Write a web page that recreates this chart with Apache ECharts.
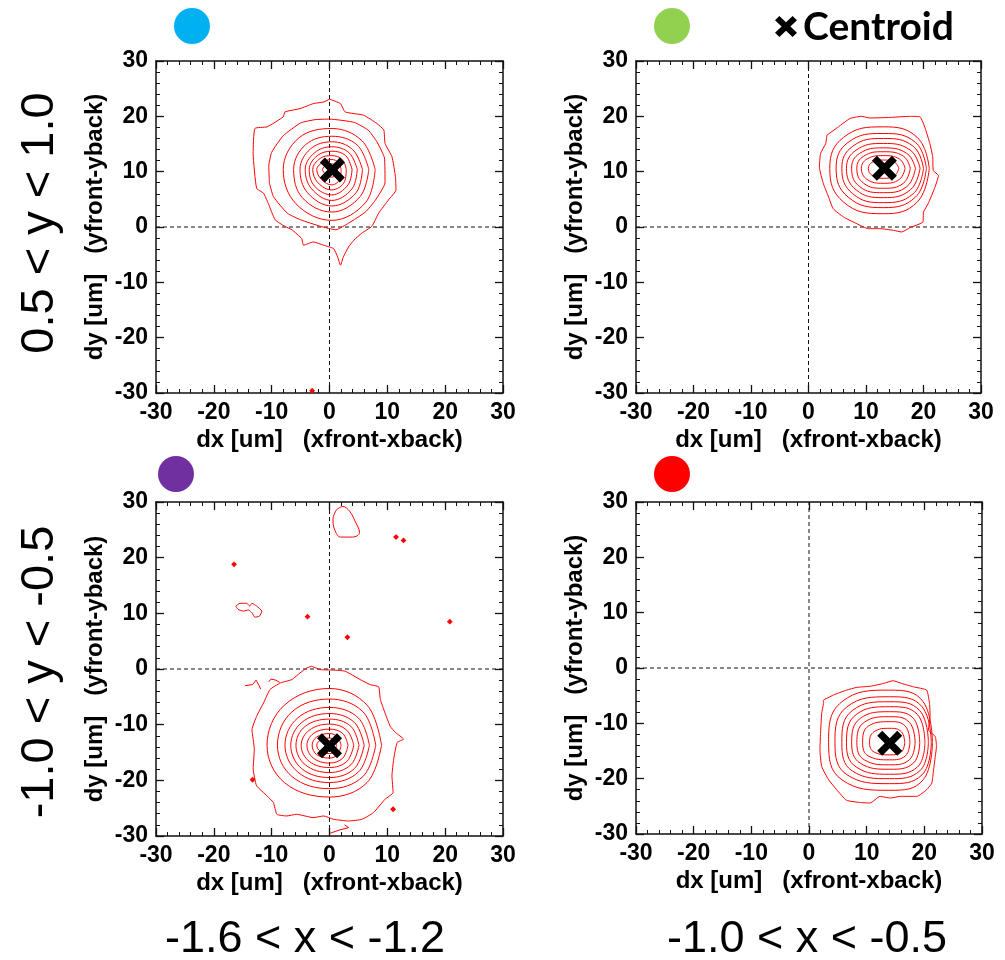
<!DOCTYPE html>
<html><head><meta charset="utf-8">
<script src="https://cdn.jsdelivr.net/npm/echarts@6/dist/echarts.min.js"></script>
<style>html,body{margin:0;padding:0;background:#fff}#c{width:1005px;height:960px}</style>
</head><body><div id="c"></div>
<script>
// ---------------- data ----------------
const axisMin = -30, axisMax = 30, axisStep = 10;
const xAxisName = 'dx [um]   (xfront-xback)';
const yAxisName = 'dy [um]   (yfront-yback)';
const rowLabels = ['0.5 < y < 1.0', '-1.0 < y < -0.5'];
const colLabels = ['-1.6 < x < -1.2', '-1.0 < x < -0.5'];
const panelColors = ['#00B0F0', '#92D050', '#7030A0', '#FF0000'];
const legendLabel = 'Centroid';
const centroids = [[0.5, 10.3], [13.2, 10.6], [0.0, -13.8], [14.0, -13.6]];
const crossV = [[0, -30], [0, 30]];
const crossH = [[-30, 0], [30, 0]];

const panel1Contours = [
  [[0,23.1],[1.9,22.3],[2.7,20.8],[5.9,20.2],[8.2,18.7],[9.4,17.5],[9.6,15.1],[10.8,12.7],[11.4,9.1],[11.5,6.7],[10.2,4.9],[8.5,2.5],[7.3,0.1],[5.6,-1.1],[4.2,-2.4],[3.3,-3.6],[2.4,-5.4],[1.9,-6.9],[1.4,-5.4],[0.7,-3.9],[-1.0,-3.3],[-2.8,-2.7],[-4.5,-3.3],[-4.8,-2.1],[-6.5,-0.5],[-7.7,0.1],[-9.4,1.3],[-10.6,4.3],[-11.4,6.1],[-12.6,7.0],[-13.2,13.3],[-12.9,17.8],[-10.8,18.1],[-8.0,19.9],[-7.7,20.8],[-5.1,21.4],[-2.8,22.3],[-1.0,22.6]],
  [[-10.4,8],[-10.5,11],[-10.0,13.5],[-8.0,16.5],[-5.0,18.8],[-2.5,19.4],[0,19.5],[4.3,18.9],[6.7,17.5],[8.2,15.4],[9.5,12.5],[9.6,8.0],[7.9,4.8],[6.2,2.7],[3.3,0.7],[1.1,-0.5],[-1.5,0.1],[-5,1.3],[-7.3,2.5],[-9.7,5.5]],
  [[7.9,10.4],[5.6,15.6],[0.4,17.8],[-5.3,16.1],[-8.0,10.4],[-5.8,4.2],[0.4,1.2],[6.3,4.5]],
  [[6.8,10.4],[4.8,14.8],[0.4,16.4],[-4.1,14.9],[-6.2,10.4],[-4.7,5.3],[0.4,2.7],[5.3,5.5]],
  [[5.7,10.4],[4.0,14.0],[0.4,15.4],[-3.3,14.1],[-5.1,10.4],[-3.8,6.2],[0.4,3.8],[4.6,6.2]],
  [[4.8,10.4],[3.4,13.4],[0.4,14.5],[-2.6,13.4],[-4.2,10.4],[-3.1,6.9],[0.4,4.8],[3.9,6.9]],
  [[3.9,10.4],[2.8,12.9],[0.4,13.7],[-2.1,12.9],[-3.5,10.4],[-2.6,7.4],[0.4,5.8],[3.2,7.6]],
  [[2.9,10.4],[2.2,12.2],[0.4,12.9],[-1.6,12.4],[-2.9,10.4],[-2.0,8.0],[0.4,6.7],[2.6,8.2]],
  [[2.0,10.4],[1.6,11.6],[0.4,12.2],[-1.0,11.8],[-2.2,10.4],[-1.4,8.6],[0.4,7.6],[1.9,8.9]],
  [[1.4,10.4],[1.1,11.1],[0.4,11.4],[-0.5,11.2],[-1.2,10.4],[-0.6,9.5],[0.4,9.0],[1.2,9.6]]
];
const panel1Specks = [[-3.0,-29.6]];

const panel2Contours = [
  [[3.2,16.6],[5.2,18.1],[7.2,19.6],[9.2,20.0],[10.7,19.7],[14.2,19.8],[17.6,20.0],[19.4,19.9],[20.3,17.8],[21.1,15.1],[21.6,12.7],[21.7,10.2],[22.6,9.3],[22.0,7.2],[20.8,4.2],[20.0,2.7],[19.9,0.9],[17.7,-0.1],[16.2,-0.9],[14.8,-0.6],[12.4,-0.3],[10.4,-0.3],[8.4,0.6],[6.1,1.8],[4.3,3.3],[3.5,5.4],[2.6,7.8],[1.9,10.8],[2.1,13.3],[3.0,15.1]],
  [[21.0,10.6],[18.9,16.2],[13.0,18.1],[6.1,16.2],[3.7,10.6],[6.1,4.5],[13.0,2.4],[18.9,4.5]],
  [[20.5,10.6],[18.6,15.3],[13.0,16.9],[6.9,15.3],[4.8,10.6],[6.9,5.4],[13.0,3.5],[18.6,5.4]],
  [[20.0,10.6],[18.2,14.6],[13.0,16.0],[7.7,14.6],[5.8,10.6],[7.7,6.0],[13.0,4.4],[18.2,6.0]],
  [[19.4,10.6],[17.7,13.9],[13.0,15.1],[8.3,13.9],[6.6,10.6],[8.3,6.7],[13.0,5.3],[17.7,6.7]],
  [[18.6,10.6],[17.1,13.3],[13.0,14.3],[8.9,13.3],[7.5,10.6],[8.9,7.3],[13.0,6.2],[17.1,7.3]],
  [[17.7,10.6],[16.5,12.8],[13.0,13.6],[9.6,12.8],[8.4,10.6],[9.6,7.9],[13.0,7.0],[16.5,7.9]],
  [[16.8,10.6],[15.8,12.3],[13.0,12.9],[10.2,12.3],[9.2,10.6],[10.2,8.6],[13.0,7.9],[15.8,8.6]],
  [[15.7,10.6],[15.0,11.7],[13.0,12.1],[11.1,11.7],[10.4,10.6],[11.1,9.3],[13.0,8.8],[15.0,9.3]]
];

const panel3Contours = [
  [[-3.1,0.5],[-1.6,-0.1],[0.7,-0.2],[2.7,-0.4],[5.3,-1.9],[7.0,-2.8],[8.5,-3.2],[8.8,-5.5],[9.6,-7.9],[10.5,-10.3],[11.4,-11.4],[12.8,-12.6],[11.7,-13.2],[11.1,-16.2],[10.8,-19.2],[11.0,-22.2],[9.6,-23.4],[7.6,-25.8],[5.6,-27.0],[3.3,-27.3],[0.7,-27.0],[-1.0,-26.4],[-2.8,-26.7],[-5.7,-26.1],[-7.4,-26.4],[-9.1,-26.1],[-9.7,-24.0],[-10.8,-22.8],[-12.6,-21.0],[-12.9,-19.8],[-13.2,-18.0],[-13.0,-14.4],[-13.4,-10.9],[-12.6,-8.5],[-11.4,-6.1],[-10.3,-3.7],[-8.5,-2.5],[-6.5,-1.9],[-5.1,-0.7],[-3.9,0.2]],
  [[9.0,-13.7],[6.5,-6.5],[0,-3.5],[-7.8,-6.5],[-10.8,-13.7],[-7.8,-20.4],[0,-23.0],[6.5,-20.4]],
  [[8.0,-13.7],[5.8,-7.7],[0,-5.4],[-6.5,-7.7],[-9.0,-13.7],[-6.5,-19.3],[0,-21.5],[5.8,-19.3]],
  [[6.9,-13.7],[5.0,-8.8],[0,-6.9],[-5.5,-8.8],[-7.7,-13.7],[-5.5,-18.5],[0,-20.4],[5.0,-18.5]],
  [[6.0,-13.7],[4.3,-9.6],[0,-8.0],[-4.8,-9.6],[-6.7,-13.7],[-4.8,-17.9],[0,-19.5],[4.3,-17.9]],
  [[5.1,-13.7],[3.7,-10.3],[0,-9.0],[-4.2,-10.3],[-5.8,-13.7],[-4.2,-17.2],[0,-18.6],[3.7,-17.2]],
  [[4.2,-13.7],[3.0,-11.0],[0,-9.9],[-3.5,-11.0],[-4.9,-13.7],[-3.5,-16.6],[0,-17.7],[3.0,-16.6]],
  [[3.2,-13.7],[2.3,-11.6],[0,-10.8],[-2.8,-11.6],[-3.9,-13.7],[-2.8,-16.0],[0,-16.9],[2.3,-16.0]],
  [[2.0,-13.7],[1.4,-12.2],[0,-11.6],[-2.2,-12.2],[-3.0,-13.7],[-2.2,-15.4],[0,-16.0],[1.4,-15.4]],
  [[1.2,-13.7],[0.9,-12.8],[0,-12.4],[-1.6,-12.8],[-2.2,-13.7],[-1.6,-14.8],[0,-15.2],[0.9,-14.8]],
  [[1.2,28.6],[2.3,29.2],[3.5,28.3],[4.4,26.6],[5.2,24.5],[4.0,23.7],[1.9,23.7],[0.9,25.0],[0.6,26.9]],
  [[-16.2,11.3],[-15.5,11.8],[-14.3,11.8],[-13.8,11.3],[-13.4,11.8],[-12.6,11.3],[-11.7,10.4],[-12.1,9.5],[-12.9,9.3],[-13.4,10.1],[-14.0,10.6],[-14.9,10.4],[-15.8,10.7]]
];
const panel3Fragments = [
  [[-14.6,-3.0],[-13.3,-2.8],[-12.7,-2.0],[-12.2,-2.9],[-11.9,-3.6]],
  [[-10.5,-2.3],[-10.1,-1.8],[-9.3,-2.0],[-8.6,-2.4]],
  [[0.1,-29.5],[1.8,-28.9],[3.3,-28.5],[2.6,-28.0]]
];
const panel3Specks = [[-16.5,18.8],[-3.8,9.4],[3.1,5.7],[11.5,23.7],[12.8,23.1],[20.8,8.5],[11.0,-25.2],[-13.3,-19.9]];

const panel4Contours = [
  [[2.5,-5.8],[4.2,-4.9],[6.5,-4.0],[8.3,-3.5],[10.6,-3.3],[12.9,-2.8],[14.6,-2.3],[16.1,-2.8],[18.1,-3.4],[20.4,-4.0],[20.9,-6.4],[21.0,-8.8],[20.7,-11.2],[21.9,-12.4],[22.1,-14.2],[21.9,-16.0],[21.6,-18.4],[21.3,-20.8],[20.4,-22.0],[18.7,-23.2],[15.8,-23.2],[14.1,-23.5],[12.3,-23.2],[10.6,-24.4],[8.8,-24.3],[6.5,-23.9],[4.8,-22.0],[3.4,-20.2],[2.2,-17.8],[1.9,-14.8],[2.0,-11.8],[2.2,-8.2],[2.5,-6.4]],
  [[21.4,-13.5],[19.8,-6.1],[14.0,-4.0],[5.7,-6.1],[3.4,-13.5],[5.7,-20.2],[14.0,-22.1],[19.8,-20.2]],
  [[21.2,-13.5],[19.6,-7.0],[14.0,-5.2],[6.6,-7.0],[4.5,-13.5],[6.6,-19.3],[14.0,-20.9],[19.6,-19.3]],
  [[20.7,-13.5],[19.2,-7.7],[14.0,-6.1],[7.5,-7.7],[5.7,-13.5],[7.5,-18.6],[14.0,-20.0],[19.2,-18.6]],
  [[20.1,-13.5],[18.8,-8.4],[14.0,-7.0],[8.2,-8.4],[6.5,-13.5],[8.2,-17.9],[14.0,-19.2],[18.8,-17.9]],
  [[19.2,-13.5],[18.1,-9.1],[14.0,-7.9],[8.9,-9.1],[7.4,-13.5],[8.9,-17.2],[14.0,-18.3],[18.1,-17.2]],
  [[18.4,-13.5],[17.4,-9.8],[14.0,-8.8],[9.6,-9.8],[8.3,-13.5],[9.6,-16.6],[14.0,-17.5],[17.4,-16.6]],
  [[17.5,-13.5],[16.7,-10.5],[14.0,-9.7],[10.3,-10.5],[9.3,-13.5],[10.3,-15.9],[14.0,-16.6],[16.7,-15.9]],
  [[16.6,-13.5],[16.0,-11.5],[14.0,-10.9],[11.3,-11.5],[10.5,-13.5],[11.3,-15.2],[14.0,-15.7],[16.0,-15.2]]
];

// ---------------- layout ----------------
const grids = [
  {left: 156, top: 61, width: 347, height: 332},
  {left: 636, top: 61, width: 345, height: 332},
  {left: 156, top: 502, width: 347, height: 334},
  {left: 636, top: 502, width: 346, height: 332}
];
const panels = [
  {contours: panel1Contours, fragments: [], specks: panel1Specks, smooth: 0.38},
  {contours: panel2Contours, fragments: [], specks: [], smooth: 0.45},
  {contours: panel3Contours, fragments: panel3Fragments, specks: panel3Specks, smooth: 0.38},
  {contours: panel4Contours, fragments: [], specks: [], smooth: 0.45}
];
const circlePos = [[192, 26], [672, 26], [176, 474], [672, 474]];

const FONT = '"Liberation Sans", Arial, sans-serif';
const labelStyle = {fontFamily: FONT, fontWeight: 'bold', fontSize: 23, color: '#000'};
const xPath = 'path://M4,0 L10,6 L16,0 L20,4 L14,10 L20,16 L16,20 L10,14 L4,20 L0,16 L6,10 L0,4 Z';
const xPoly = [[4,0],[10,6],[16,0],[20,4],[14,10],[20,16],[16,20],[10,14],[4,20],[0,16],[6,10],[0,4]];

function axisCommon(i, pos, isX) {
  const main = (pos === 'bottom' || pos === 'left');
  return {
    type: 'value', gridIndex: i, position: pos, min: axisMin, max: axisMax, interval: axisStep,
    axisLine: {onZero: false, lineStyle: {color: '#111', width: 1.5}},
    axisTick: {inside: true, length: 8, lineStyle: {color: '#111', width: 1.3}},
    minorTick: {show: true, splitNumber: 5, length: 4, lineStyle: {color: '#111', width: 1}},
    splitLine: {show: false},
    axisLabel: main ? Object.assign({margin: 8}, labelStyle) : {show: false},
    name: main ? (isX ? xAxisName : yAxisName) : '',
    nameLocation: 'middle',
    nameGap: isX ? 35 : 49,
    nameTextStyle: {fontFamily: FONT, fontWeight: 'bold', fontSize: 24, color: '#000'}
  };
}

const xAxes = [], yAxes = [], series = [];
grids.forEach((g, i) => {
  xAxes.push(axisCommon(i, 'bottom', true));
  xAxes.push(axisCommon(i, 'top', true));
  yAxes.push(axisCommon(i, 'left', false));
  yAxes.push(axisCommon(i, 'right', false));
  const ax = {xAxisIndex: 2 * i, yAxisIndex: 2 * i};
  [crossV, crossH].forEach(d => series.push(Object.assign({
    type: 'line', data: d, symbol: 'none', silent: true, z: 1,
    lineStyle: {color: '#111', width: 1, type: [4, 3]}
  }, ax)));
  const p = panels[i];
  p.contours.forEach(c => series.push(Object.assign({
    type: 'line', data: c.concat([c[0]]), symbol: 'none', smooth: c.length > 10 ? 0.15 : p.smooth, silent: true, z: 2,
    lineStyle: {color: '#FF0000', width: 1}
  }, ax)));
  p.fragments.forEach(c => series.push(Object.assign({
    type: 'line', data: c, symbol: 'none', silent: true, z: 2,
    lineStyle: {color: '#FF0000', width: 1}
  }, ax)));
  if (p.specks.length) series.push(Object.assign({
    type: 'scatter', data: p.specks, symbol: 'emptyDiamond', symbolSize: 3, silent: true, z: 2,
    itemStyle: {color: '#FF0000', borderColor: '#FF0000', borderWidth: 1, opacity: 1}
  }, ax));
  series.push(Object.assign({
    type: 'scatter', data: [centroids[i]], symbol: xPath, symbolSize: 25, silent: true, z: 5,
    itemStyle: {color: '#000', opacity: 1}
  }, ax));
});

const graphic = [];
circlePos.forEach((c, i) => graphic.push({type: 'circle', shape: {cx: c[0], cy: c[1], r: 18}, style: {fill: panelColors[i]}}));
[[40, 223], [40, 672]].forEach((pt, i) => graphic.push({
  type: 'text', x: pt[0], y: pt[1], rotation: Math.PI / 2,
  style: {text: rowLabels[i], fontFamily: FONT, fontSize: 47, fill: '#000', align: 'center', verticalAlign: 'middle'}
}));
[[305, 940], [807, 940]].forEach((pt, i) => graphic.push({
  type: 'text', x: pt[0], y: pt[1],
  style: {text: colLabels[i], fontFamily: FONT, fontSize: 45, fill: '#000', align: 'center', verticalAlign: 'middle'}
}));
graphic.push({type: 'polygon', shape: {points: xPoly}, x: 775, y: 16, scaleX: 1.1, scaleY: 1.05, style: {fill: '#000'}});
graphic.push({type: 'text', x: 803, y: 27,
  style: {text: legendLabel, fontFamily: 'Lato, "Open Sans", sans-serif', fontWeight: 'bold', fontSize: 39, fill: '#000', align: 'left', verticalAlign: 'middle'}});

const chart = echarts.init(document.getElementById('c'), null, {renderer: 'canvas'});
chart.setOption({
  animation: false,
  backgroundColor: '#fff',
  grid: grids.map(g => Object.assign({containLabel: false}, g)),
  xAxis: xAxes, yAxis: yAxes, series: series, graphic: graphic
});
</script></body></html>
